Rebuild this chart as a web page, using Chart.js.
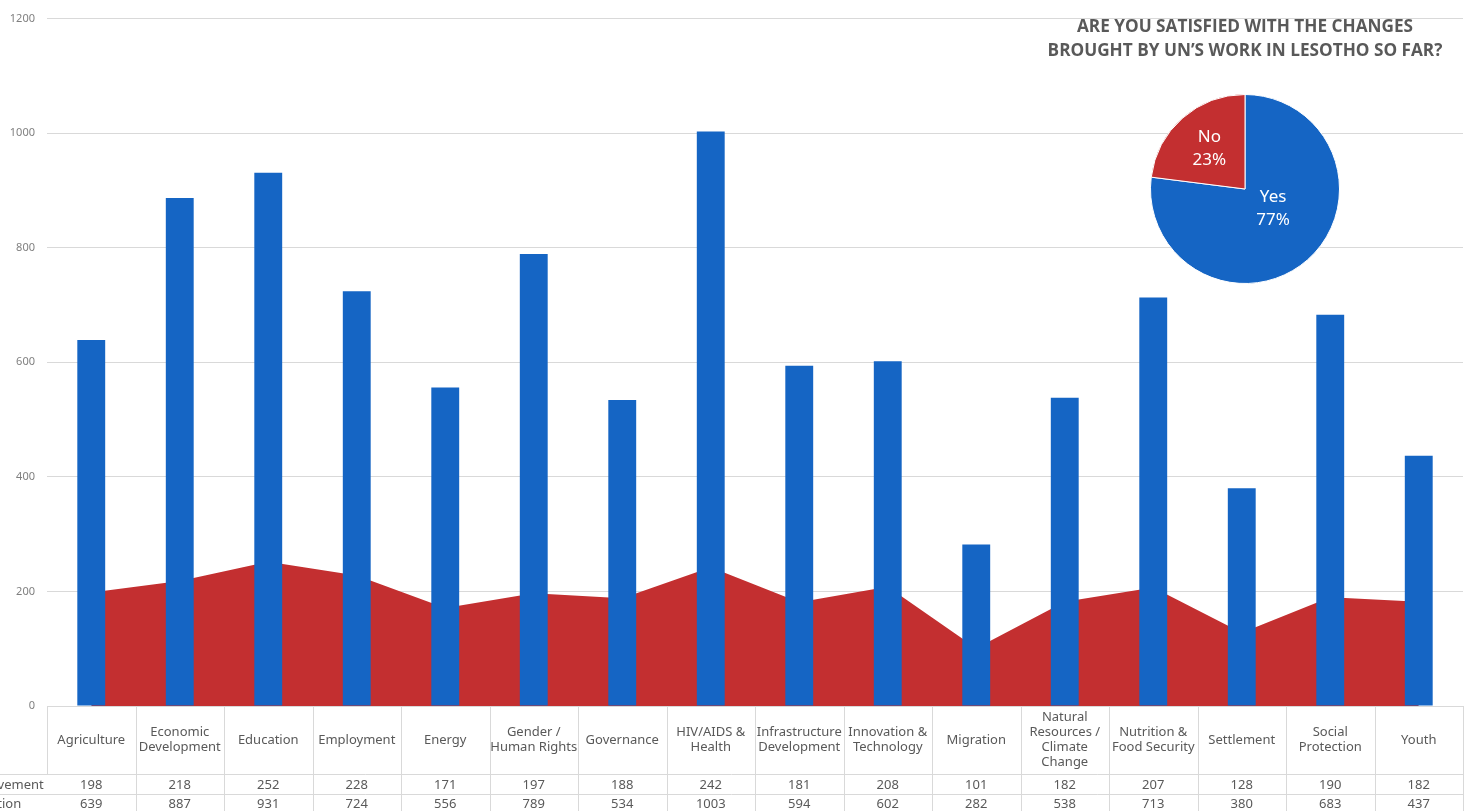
<!DOCTYPE html>
<html>
<head>
<meta charset="utf-8">
<script src="https://cdn.jsdelivr.net/npm/chart.js@4.4.1/dist/chart.umd.min.js"></script>
<style>
  html, body { margin: 0; padding: 0; background: #fff; overflow: hidden; }
  #wrap { position: relative; width: 1467px; height: 811px; }
  #main { position: absolute; left: 0; top: 0; }
  #pie { position: absolute; left: 1140px; top: 84px; }
  #pieTitle {
    position: absolute; left: 1025px; top: 14px; width: 440px;
    text-align: center; font-family: "Open Sans", sans-serif; font-weight: 700;
    font-size: 17.2px; line-height: 24px; color: #595959;
  }
</style>
</head>
<body>
<div id="wrap">
  <canvas id="main" width="1467" height="811"></canvas>
  <div id="pieTitle">ARE YOU SATISFIED WITH THE CHANGES<br>BROUGHT BY UN’S WORK IN LESOTHO SO FAR?</div>
  <canvas id="pie" width="210" height="210"></canvas>
</div>
<script>
// DATA
const categories = [
  ["Agriculture"], ["Economic", "Development"], ["Education"], ["Employment"], ["Energy"],
  ["Gender /", "Human Rights"], ["Governance"], ["HIV/AIDS &", "Health"],
  ["Infrastructure", "Development"], ["Innovation &", "Technology"], ["Migration"],
  ["Natural", "Resources /", "Climate", "Change"], ["Nutrition &", "Food Security"],
  ["Settlement"], ["Social", "Protection"], ["Youth"]
];
const improvement = [198, 218, 252, 228, 171, 197, 188, 242, 181, 208, 101, 182, 207, 128, 190, 182];
const action = [639, 887, 931, 724, 556, 789, 534, 1003, 594, 602, 282, 538, 713, 380, 683, 437];
const seriesNames = ["Improvement", "Action"];
const yTicks = [0, 200, 400, 600, 800, 1000, 1200];

const pieLabels = ["Yes", "No"];
const pieValues = [77, 23];

const BLUE = "#1565C4";
const RED = "#C32F30";
const GRID = "#D9D9D9";
const FONT = "'Noto Sans', 'Open Sans', sans-serif";

// DATA TABLE under the plot (drawn from the x scale)
const dataTable = {
  id: "dataTable",
  afterDraw(chart) {
    const ctx = chart.ctx;
    const x = chart.scales.x;
    const area = chart.chartArea;
    const n = categories.length;
    const colW = (area.right - area.left) / n;
    const top = area.bottom;
    const row1 = top + 68, row2 = row1 + 20, bottom = 811;
    ctx.save();
    ctx.strokeStyle = GRID;
    ctx.lineWidth = 1;
    ctx.beginPath();
    // verticals
    for (let i = 0; i <= n; i++) {
      const xx = Math.round(area.left + i * colW) + 0.5;
      ctx.moveTo(xx, top);
      ctx.lineTo(xx, i === 0 ? row1 : bottom);
    }
    // horizontals
    [row1, row2].forEach(yy => {
      ctx.moveTo(0, yy + 0.5);
      ctx.lineTo(area.right, yy + 0.5);
    });
    ctx.moveTo(area.left, top + 0.5);
    ctx.lineTo(area.right, top + 0.5);
    ctx.stroke();

    ctx.fillStyle = "#595959";
    ctx.textAlign = "center";
    ctx.textBaseline = "middle";
    ctx.font = "13px " + FONT;
    const lh = 15;
    categories.forEach((lines, i) => {
      const cx = x.getPixelForValue(i);
      const cy = (top + row1) / 2;
      lines.forEach((t, k) => {
        ctx.fillText(t, cx, cy + (k - (lines.length - 1) / 2) * lh);
      });
      ctx.fillText(String(improvement[i]), cx, (row1 + row2) / 2 + 1);
      ctx.fillText(String(action[i]), cx, (row2 + bottom) / 2 + 2);
    });
    // row headers, centred in a header column that runs off the left edge
    const hx = area.left - 45;
    ctx.fillText(seriesNames[0], hx, (row1 + row2) / 2 + 1);
    ctx.fillText(seriesNames[1], hx, (row2 + bottom) / 2 + 2);
    ctx.restore();
  }
};

new Chart(document.getElementById("main"), {
  type: "bar",
  data: {
    labels: categories.map(c => c.join(" ")),
    datasets: [
      {
        type: "bar",
        label: seriesNames[1],
        data: action,
        backgroundColor: BLUE,
        barPercentage: 0.315,
        categoryPercentage: 1,
        order: 1
      },
      {
        type: "line",
        label: seriesNames[0],
        data: improvement,
        borderColor: RED,
        borderWidth: 0,
        backgroundColor: RED,
        fill: "origin",
        pointRadius: 0,
        tension: 0,
        order: 2
      }
    ]
  },
  options: {
    responsive: false,
    animation: false,
    layout: { padding: { top: 17, right: 4, left: 0, bottom: 0 } },
    plugins: { legend: { display: false }, tooltip: { enabled: false } },
    scales: {
      x: {
        grid: { display: false },
        border: { display: false },
        ticks: { display: false },
        afterFit: s => { s.height = 105; }
      },
      y: {
        min: 0,
        max: 1200,
        afterBuildTicks: s => { s.ticks = yTicks.map(v => ({ value: v })); },
        afterFit: s => { s.width = 47; },
        ticks: {
          color: "#7F7F7F", font: { family: FONT, size: 11 }, padding: 12,
          callback: v => String(v)
        },
        grid: { color: GRID, drawTicks: false },
        border: { display: false }
      }
    }
  },
  plugins: [dataTable]
});

// PIE INSET
const pieText = {
  id: "pieText",
  afterDatasetsDraw(chart) {
    const ctx = chart.ctx;
    const arcs = chart.getDatasetMeta(0).data;
    const factors = [0.36, 0.57];
    const turn = [-0.25, 0];
    ctx.save();
    ctx.fillStyle = "#fff";
    ctx.textAlign = "center";
    ctx.textBaseline = "middle";
    ctx.font = "17px " + FONT;
    arcs.forEach((a, i) => {
      const mid = (a.startAngle + a.endAngle) / 2 + turn[i];
      const r = a.outerRadius * factors[i];
      const px = a.x + Math.cos(mid) * r;
      const py = a.y + Math.sin(mid) * r;
      ctx.fillText(pieLabels[i], px, py - 11);
      ctx.fillText(pieValues[i] + "%", px, py + 12);
    });
    ctx.restore();
  }
};

new Chart(document.getElementById("pie"), {
  type: "pie",
  data: {
    labels: pieLabels,
    datasets: [{
      data: pieValues,
      backgroundColor: [BLUE, RED],
      borderColor: "#fff",
      borderWidth: 1
    }]
  },
  options: {
    responsive: false,
    animation: false,
    layout: { padding: 10 },
    plugins: { legend: { display: false }, tooltip: { enabled: false } }
  },
  plugins: [pieText]
});
</script>
</body>
</html>
